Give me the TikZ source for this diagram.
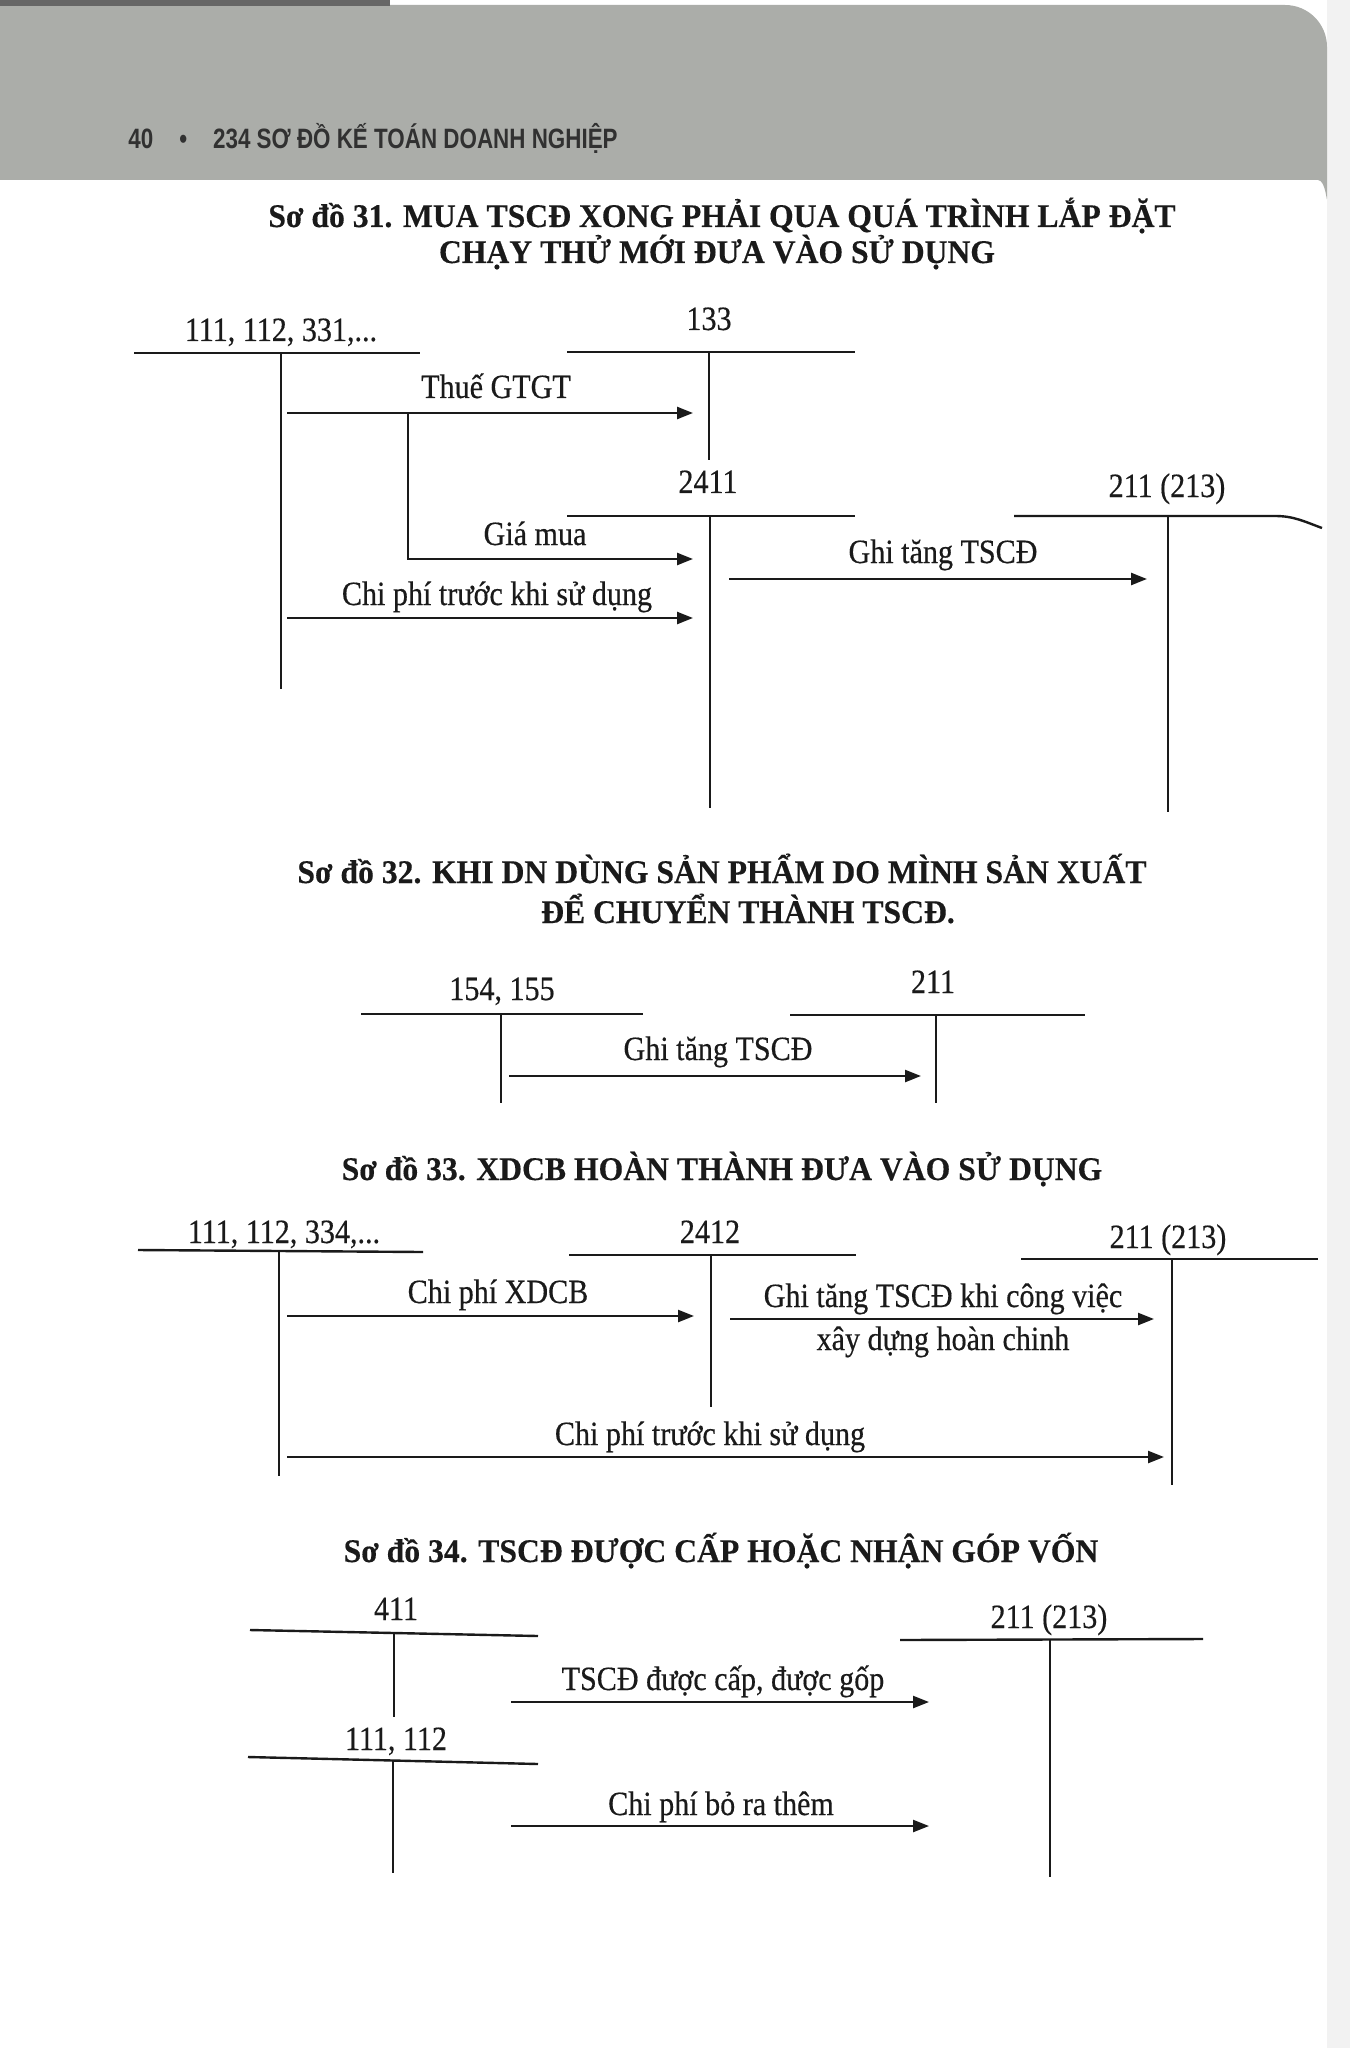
\documentclass[tikz,border=0pt]{standalone}
\usepackage{fontspec}
\setmainfont{Liberation Serif}
\newfontfamily\lblfont[FakeStretch=0.885,FakeBold=0.4]{Liberation Serif}
\newfontfamily\ttlfont[FakeStretch=0.96,FakeBold=0.3]{Liberation Serif}
\newfontfamily\hdrfont[FakeStretch=0.8]{Liberation Sans}
\usetikzlibrary{arrows.meta}
\definecolor{ink}{HTML}{1A1A1A}
\definecolor{band}{HTML}{ABADA9}
\begin{document}
\begin{tikzpicture}[x=0.5pt,y=-0.5pt,
  tline/.style={line width=1.2pt, draw=ink},
  flow/.style={line width=1.2pt, draw=ink, -{Triangle[length=8pt,width=6pt]}},
  acct/.style={font=\lblfont\fontsize{17}{19}\selectfont, text=ink, inner sep=0pt, anchor=base},
  lbl/.style={font=\lblfont\fontsize{17}{19}\selectfont, text=ink, inner sep=0pt, anchor=base},
  ttl/.style={font=\ttlfont\bfseries\fontsize{16.5}{19}\selectfont, text=ink, inner sep=0pt, anchor=base},
  hdr/.style={font=\hdrfont\bfseries\fontsize{14}{16}\selectfont, text=ink!90, inner sep=0pt, anchor=base west},
]
% page and header band
\fill[white] (0,0) rectangle (1350,2048);
\useasboundingbox (0,0) rectangle (1350,2048);
\fill[gray!10] (1327,0) rectangle (1350,2048);
\fill[band] (0,5) -- (1285,5) to[out=0,in=90] (1327,47) -- (1327,198) to[out=-90,in=0] (1318,180) -- (0,180) -- cycle;
\fill[black!60] (0,0) rectangle (390,6);
\node[hdr] (hdr) at (128,149) {40\hspace{13pt}•\hspace{13pt}234 SƠ ĐỒ KẾ TOÁN DOANH NGHIỆP};

% ================= Sơ đồ 31 =================
\node[ttl] (t31a) at (722,227) {Sơ đồ 31. MUA TSCĐ XONG PHẢI QUA QUÁ TRÌNH LẮP ĐẶT};
\node[ttl] (t31b) at (717,263) {CHẠY THỬ MỚI ĐƯA VÀO SỬ DỤNG};

\node[acct] (a111) at (281,341) {111, 112, 331,...};
\coordinate (a111L) at (134,353); \coordinate (a111R) at (420,353);
\coordinate (a111T) at (281,353); \coordinate (a111B) at (281,689);
\draw[tline] (a111L) -- (a111R); \draw[tline] (a111T) -- (a111B);

\node[acct] (a133) at (709,330) {133};
\coordinate (a133L) at (567,352); \coordinate (a133R) at (855,352);
\coordinate (a133T) at (709,352); \coordinate (a133B) at (709,460);
\draw[tline] (a133L) -- (a133R); \draw[tline] (a133T) -- (a133B);

\node[acct] (a2411) at (708,493) {2411};
\coordinate (a2411L) at (567,516); \coordinate (a2411R) at (855,516);
\coordinate (a2411T) at (710,516); \coordinate (a2411B) at (710,808);
\draw[tline] (a2411L) -- (a2411R); \draw[tline] (a2411T) -- (a2411B);

\node[acct] (a211a) at (1167,497) {211 (213)};
\coordinate (a211aL) at (1014,516); \coordinate (a211aM) at (1275,516); \coordinate (a211aR) at (1322,528);
\coordinate (a211aT) at (1168,516); \coordinate (a211aB) at (1168,812);
\draw[tline] (a211aL) -- (a211aM) to[out=0,in=160] (a211aR); \draw[tline] (a211aT) -- (a211aB);

% flows
\coordinate (f1s) at (287,413); \coordinate (f1e) at (693,413);
\draw[flow] (f1s) -- (f1e);
\node[lbl] (l1) at (496,398) {Thuế GTGT};
\coordinate (f2s) at (408,413); \coordinate (f2c) at (408,559); \coordinate (f2e) at (693,559);
\draw[flow] (f2s) -- (f2c) -- (f2e);
\node[lbl] (l2) at (535,545) {Giá mua};
\coordinate (f3s) at (287,618); \coordinate (f3e) at (693,618);
\draw[flow] (f3s) -- (f3e);
\node[lbl] (l3) at (497,605) {Chi phí trước khi sử dụng};
\coordinate (f4s) at (729,579); \coordinate (f4e) at (1147,579);
\draw[flow] (f4s) -- (f4e);
\node[lbl] (l4) at (943,563) {Ghi tăng TSCĐ};

% ================= Sơ đồ 32 =================
\node[ttl] (t32a) at (722,883) {Sơ đồ 32. KHI DN DÙNG SẢN PHẨM DO MÌNH SẢN XUẤT};
\node[ttl] (t32b) at (748,923) {ĐỂ CHUYỂN THÀNH TSCĐ.};

\node[acct] (a154) at (502,1000) {154, 155};
\coordinate (a154L) at (361,1014); \coordinate (a154R) at (643,1014);
\coordinate (a154T) at (501,1014); \coordinate (a154B) at (501,1103);
\draw[tline] (a154L) -- (a154R); \draw[tline] (a154T) -- (a154B);

\node[acct] (a211b) at (933,993) {211};
\coordinate (a211bL) at (790,1015); \coordinate (a211bR) at (1085,1015);
\coordinate (a211bT) at (936,1015); \coordinate (a211bB) at (936,1103);
\draw[tline] (a211bL) -- (a211bR); \draw[tline] (a211bT) -- (a211bB);

\coordinate (f5s) at (509,1076); \coordinate (f5e) at (921,1076);
\draw[flow] (f5s) -- (f5e);
\node[lbl] (l5) at (718,1060) {Ghi tăng TSCĐ};

% ================= Sơ đồ 33 =================
\node[ttl] (t33) at (722,1180) {Sơ đồ 33. XDCB HOÀN THÀNH ĐƯA VÀO SỬ DỤNG};

\node[acct] (a111c) at (284,1243) {111, 112, 334,...};
\coordinate (a111cL) at (138,1250); \coordinate (a111cR) at (423,1252);
\coordinate (a111cT) at (279,1251); \coordinate (a111cB) at (279,1476);
\draw[tline] (a111cL) -- (a111cR); \draw[tline] (a111cT) -- (a111cB);

\node[acct] (a2412) at (710,1243) {2412};
\coordinate (a2412L) at (569,1255); \coordinate (a2412R) at (856,1255);
\coordinate (a2412T) at (711,1255); \coordinate (a2412B) at (711,1407);
\draw[tline] (a2412L) -- (a2412R); \draw[tline] (a2412T) -- (a2412B);

\node[acct] (a211c) at (1168,1248) {211 (213)};
\coordinate (a211cL) at (1021,1259); \coordinate (a211cR) at (1318,1259);
\coordinate (a211cT) at (1172,1259); \coordinate (a211cB) at (1172,1485);
\draw[tline] (a211cL) -- (a211cR); \draw[tline] (a211cT) -- (a211cB);

\coordinate (f6s) at (287,1316); \coordinate (f6e) at (694,1316);
\draw[flow] (f6s) -- (f6e);
\node[lbl] (l6) at (498,1303) {Chi phí XDCB};
\coordinate (f7s) at (730,1319); \coordinate (f7e) at (1154,1319);
\draw[flow] (f7s) -- (f7e);
\node[lbl] (l7a) at (943,1307) {Ghi tăng TSCĐ khi công việc};
\node[lbl] (l7b) at (943,1350) {xây dựng hoàn chinh};
\coordinate (f8s) at (287,1457); \coordinate (f8e) at (1164,1457);
\draw[flow] (f8s) -- (f8e);
\node[lbl] (l8) at (710,1445) {Chi phí trước khi sử dụng};

% ================= Sơ đồ 34 =================
\node[ttl] (t34) at (721,1562) {Sơ đồ 34. TSCĐ ĐƯỢC CẤP HOẶC NHẬN GÓP VỐN};

\node[acct] (a411) at (396,1620) {411};
\coordinate (a411L) at (250,1630); \coordinate (a411R) at (538,1636);
\coordinate (a411T) at (394,1633); \coordinate (a411B) at (394,1717);
\draw[tline] (a411L) -- (a411R); \draw[tline] (a411T) -- (a411B);

\node[acct] (a111d) at (396,1750) {111, 112};
\coordinate (a111dL) at (248,1757); \coordinate (a111dR) at (538,1764);
\coordinate (a111dT) at (393,1760); \coordinate (a111dB) at (393,1873);
\draw[tline] (a111dL) -- (a111dR); \draw[tline] (a111dT) -- (a111dB);

\node[acct] (a211d) at (1049,1628) {211 (213)};
\coordinate (a211dL) at (900,1640); \coordinate (a211dR) at (1203,1639);
\coordinate (a211dT) at (1050,1640); \coordinate (a211dB) at (1050,1877);
\draw[tline] (a211dL) -- (a211dR); \draw[tline] (a211dT) -- (a211dB);

\coordinate (f9s) at (511,1702); \coordinate (f9e) at (929,1702);
\draw[flow] (f9s) -- (f9e);
\node[lbl] (l9) at (723,1690) {TSCĐ được cấp, được gốp};
\coordinate (f10s) at (511,1826); \coordinate (f10e) at (929,1826);
\draw[flow] (f10s) -- (f10e);
\node[lbl] (l10) at (721,1815) {Chi phí bỏ ra thêm};
\end{tikzpicture}
\end{document}
